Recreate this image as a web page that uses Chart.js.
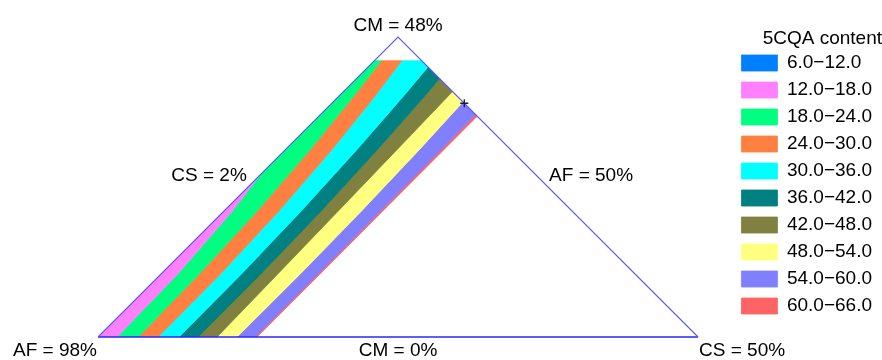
<!DOCTYPE html>
<html>
<head>
<meta charset="utf-8">
<script src="https://cdn.jsdelivr.net/npm/chart.js@4.4.1/dist/chart.umd.min.js"></script>
<style>
  html, body { margin: 0; padding: 0; background: #ffffff; }
  #wrap { width: 882px; height: 360px; position: relative; }
</style>
</head>
<body>
<div id="wrap"><canvas id="chart"></canvas></div>
<script>
// 5CQA content over the AF / CM / CS mixture region (pseudo-components, %)

// Legend classes
const rangeLabels = ['6.0−12.0', '12.0−18.0', '18.0−24.0', '24.0−30.0', '30.0−36.0',
                     '36.0−42.0', '42.0−48.0', '48.0−54.0', '54.0−60.0', '60.0−66.0'];
const rangeLows  = [6, 12, 18, 24, 30, 36, 42, 48, 54, 60];
const rangeHighs = [12, 18, 24, 30, 36, 42, 48, 54, 60, 66];
const bandColors = ['#0080ff', '#ff80ff', '#00ff80', '#ff8040', '#00ffff',
                    '#008080', '#808040', '#ffff80', '#8080ff', '#ff6464'];

// Component limits of the mixture region (%)
const afLimits = [50, 98];
const cmLimits = [0, 48];
const csLimits = [2, 50];
// Highest CM level covered by the fitted surface (%)
const cmFitTop = 44.2;

// CM levels (%) at which the contour positions are tabulated
const cmLevels = [0, 10, 20, 30, 38, 44.2];
// CS (%) at which each contour level crosses the CM levels above
const contourLevels = [18, 24, 30, 36, 42, 48, 54, 60];
const contour18 = [3.52, 3.35, 2.69, 1.56, 0.30, -0.88];
const contour24 = [5.20, 5.06, 4.66, 3.98, 3.24, 2.56];
const contour30 = [6.80, 6.76, 6.40, 5.72, 4.94, 4.19];
const contour36 = [8.48, 8.43, 8.18, 7.72, 7.20, 6.72];
const contour42 = [10.00, 9.99, 9.78, 9.36, 8.89, 8.43];
const contour48 = [11.52, 11.34, 11.14, 10.93, 10.75, 10.58];
const contour54 = [13.12, 13.14, 13.00, 12.72, 12.37, 12.05];
const contour60 = [14.56, 14.55, 14.52, 14.46, 14.40, 14.35];
// Outer limit of the coloured surface (CS %)
const surfaceEdge = [14.72, 14.72, 14.70, 14.68, 14.66, 14.64];

// Optimum composition marked with a cross
const optimumCM = [37.4];
const optimumCS = [12.6];

// Axis labels at the corners and along the edges
const cornerLabels = ['AF = 98%', 'CM = 48%', 'CS = 50%'];
const edgeLabels = ['CS = 2%', 'AF = 50%', 'CM = 0%'];

const contourRows = [contour18, contour24, contour30, contour36,
                     contour42, contour48, contour54, contour60];

// ---- geometry helpers -------------------------------------------------
// (CS, CM) -> plane coordinates of the triangle layout
function toPlane(cs, cm) {
  return { x: (cs - csLimits[0]) + (cm - cmLimits[0]) / 2, y: cm - cmLimits[0] };
}

function edgeRow(level) {
  if (level < contourLevels[0]) return cmLevels.map(() => csLimits[0] - 5);
  if (level > contourLevels[contourLevels.length - 1]) return surfaceEdge;
  return contourRows[contourLevels.indexOf(level)];
}

function clipPoly(poly, f) {
  const out = [];
  for (let i = 0; i < poly.length; i++) {
    const cur = poly[i];
    const prev = poly[(i + poly.length - 1) % poly.length];
    const fc = f(cur), fp = f(prev);
    const cross = () => {
      const t = fp / (fp - fc);
      return { cs: prev.cs + t * (cur.cs - prev.cs), cm: prev.cm + t * (cur.cm - prev.cm) };
    };
    if (fc >= 0) {
      if (fp < 0) out.push(cross());
      out.push(cur);
    } else if (fp >= 0) {
      out.push(cross());
    }
  }
  return out;
}

function bandPolygon(lo, hi) {
  const left = edgeRow(lo), right = edgeRow(hi);
  if (left === right) return [];
  let poly = [];
  cmLevels.forEach((cm, i) => poly.push({ cs: left[i], cm }));
  for (let i = cmLevels.length - 1; i >= 0; i--) poly.push({ cs: right[i], cm: cmLevels[i] });
  const limits = [
    p => p.cs - csLimits[0],
    p => p.cm - cmLimits[0],
    p => (100 - afLimits[0]) - p.cs - p.cm,
    p => cmFitTop - p.cm
  ];
  limits.forEach(f => { if (poly.length) poly = clipPoly(poly, f); });
  if (poly.length < 3) return [];
  return poly.map(p => toPlane(p.cs, p.cm));
}

// ---- datasets ---------------------------------------------------------
const bandSets = rangeLabels.map((label, i) => ({
  type: 'line',
  label,
  data: bandPolygon(rangeLows[i], rangeHighs[i]),
  backgroundColor: bandColors[i],
  borderColor: bandColors[i],
  borderWidth: 0.8,
  pointRadius: 0,
  fill: 'shape',
  tension: 0,
  order: 1
}));

const cornerPts = [
  toPlane(csLimits[0], cmLimits[0]),                     // AF = 98%
  toPlane(csLimits[0], cmLimits[1]),                     // CM = 48%
  toPlane(100 - afLimits[0] - cmLimits[0], cmLimits[0])  // CS = 50%
];

// Two slanted sides of the triangle
const sidesSet = {
  type: 'line',
  label: 'sides',
  data: [cornerPts[0], cornerPts[1], cornerPts[2]],
  borderColor: '#5858ff',
  borderWidth: 1.1,
  pointRadius: 0,
  fill: false,
  tension: 0,
  clip: false,
  order: -1
};

// Base of the triangle (CM = 0)
const baseSet = {
  type: 'line',
  label: 'base',
  data: [cornerPts[0], cornerPts[2]],
  borderColor: '#2626ff',
  borderWidth: 1.6,
  pointRadius: 0,
  fill: false,
  tension: 0,
  clip: false,
  order: -1
};

const optimumSet = {
  type: 'scatter',
  label: 'optimum',
  data: optimumCM.map((cm, i) => toPlane(optimumCS[i], cm)),
  pointStyle: 'cross',
  pointRadius: 4,
  borderColor: '#1a1a3a',
  borderWidth: 1.3,
  clip: false,
  order: -2
};

// ---- corner / edge captions -------------------------------------------
const captionPlugin = {
  id: 'ternaryCaptions',
  afterDraw(chart) {
    const { ctx, scales: { x, y } } = chart;
    const px = p => ({ x: x.getPixelForValue(p.x), y: y.getPixelForValue(p.y) });
    const [a, b, c] = cornerPts.map(px);
    ctx.save();
    ctx.fillStyle = '#000000';
    ctx.font = "19px 'Liberation Sans', Arial, sans-serif";
    ctx.textBaseline = 'middle';
    const put = (t, tx, ty, align) => { ctx.textAlign = align; ctx.fillText(t, tx, ty); };
    put(cornerLabels[0], a.x - 1, a.y + 14, 'right');
    put(cornerLabels[1], b.x, b.y - 11, 'center');
    put(cornerLabels[2], c.x + 1, c.y + 14, 'left');
    put(edgeLabels[0], (a.x + b.x) / 2 - 39, (a.y + b.y) / 2 - 11, 'center');
    put(edgeLabels[1], (b.x + c.x) / 2 + 43, (b.y + c.y) / 2 - 11, 'center');
    put(edgeLabels[2], (a.x + c.x) / 2, a.y + 14, 'center');
    ctx.restore();
  }
};

Chart.defaults.font.family = "'Liberation Sans', Arial, sans-serif";

new Chart(document.getElementById('chart'), {
  type: 'scatter',
  data: { datasets: [...bandSets, sidesSet, baseSet, optimumSet] },
  options: {
    responsive: true,
    maintainAspectRatio: false,
    animation: false,
    events: [],
    layout: { padding: { left: 98, top: 29, right: 0, bottom: 23 } },
    scales: {
      x: { type: 'linear', display: false, min: 0, max: 50.83 },
      y: { type: 'linear', display: false, min: 0, max: 49.28 }
    },
    plugins: {
      tooltip: { enabled: false },
      legend: {
        position: 'right',
        align: 'start',
        labels: {
          boxWidth: 36,
          boxHeight: 16,
          padding: 8,
          color: '#000000',
          font: { size: 19 },
          filter: item => item.datasetIndex < rangeLabels.length
        },
        title: {
          display: true,
          text: '5CQA content',
          position: 'end',
          color: '#000000',
          padding: 0,
          font: { size: 19, lineHeight: 0.87 }
        }
      }
    }
  },
  plugins: [captionPlugin]
});
</script>
</body>
</html>
